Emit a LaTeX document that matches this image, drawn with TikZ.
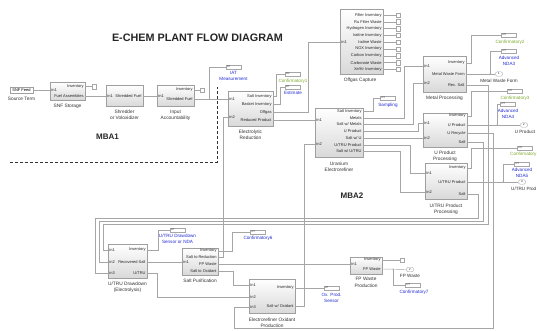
\documentclass[tikz,border=0pt]{standalone}
\usepackage{fontspec}
\setmainfont{Liberation Sans}
\definecolor{rtblue}{RGB}{35,45,210}
\definecolor{rvgreen}{RGB}{125,170,45}
\newcommand{\portfont}{\fontsize{4}{4.5}\selectfont}
\newcommand{\captfont}{\fontsize{4.8}{6.3}\selectfont}
\newcommand{\lblfont}{\fontsize{4.6}{5.8}\selectfont}
\newcommand{\xsfont}{\fontsize{2.8}{3}\selectfont}

\begin{document}
\begin{tikzpicture}[x=1pt, y=-1pt,
  blk/.style={draw=gray!75, top color=white, bottom color=gray!30, inner sep=0pt, anchor=north west},
  inp/.style={anchor=west, font=\portfont, text=black!85, inner xsep=1.2pt, inner ysep=0pt},
  outp/.style={anchor=east, font=\portfont, text=black!85, inner xsep=1.2pt, inner ysep=0pt},
  capt/.style={font=\captfont, text=black!80, align=center, inner sep=0pt},
  olbl/.style={font=\lblfont, text=black!80, align=center, inner sep=0pt},
  wire/.style={draw=gray!70, line width=0.4pt},
  jct/.style={fill=gray!70},
  rtbox/.style={draw=gray!70, fill=white, minimum width=15pt, minimum height=4.5pt, text width=13pt, inner xsep=1pt, inner ysep=0pt, align=left, font=\xsfont, text=black!70},
  rtlbl/.style={font=\lblfont, text=rtblue, align=center, inner sep=0pt},
  rvlbl/.style={font=\lblfont, text=rvgreen, align=center, inner sep=0pt},
  trm/.style={draw=gray!70, fill=white, minimum width=4pt, minimum height=4.5pt, inner sep=0pt},
  oport/.style={draw=gray!70, fill=white, rounded corners=2pt, minimum width=7pt, minimum height=4.5pt, inner sep=0pt, font=\xsfont},
  mba/.style={font=\bfseries\fontsize{8}{8}\selectfont, text=black!85},
  mbaline/.style={draw=black!80, line width=0.8pt, dash pattern=on 3pt off 2pt}
]
\fill[white] (0,0) rectangle (537,331);
\useasboundingbox (0,0) rectangle (537,331);

% title and MBA labels
\node[font=\bfseries\fontsize{10.8}{11}\selectfont, text=black!85] (title) at (197.5,38) {E-CHEM PLANT FLOW DIAGRAM};
\node[mba] (mba1) at (107.5,137) {MBA1};
\node[mba] (mba2) at (352,196) {MBA2};

% MBA1 boundary
\draw[mbaline] (10,162) -- (217,162) -- (217,87);

% source term
\node[draw=gray!75, fill=white, minimum width=23pt, minimum height=6pt, inner sep=0pt, font=\portfont] (feed) at (21.5,90) {SNF Feed};
\node[capt] (feed-c) at (21.5,99) {Source Term};

% SNF storage
\node[blk, minimum width=35pt, minimum height=18pt] (snf) at (50,82) {};
\node[inp] (snf-i1) at (50,90) {in1};
\node[outp] (snf-o1) at (85,86.5) {Inventory};
\node[outp] (snf-o2) at (85,96) {Fuel Assemblies};
\node[capt] (snf-c) at (67.5,106) {SNF Storage};
\node[trm] (snf-t) at (94,86.5) {};

% shredder
\node[blk, minimum width=37pt, minimum height=21pt] (shr) at (106,85) {};
\node[inp] (shr-i1) at (106,96) {in1};
\node[outp] (shr-o1) at (143,96) {Shredded Fuel};
\node[capt] (shr-c) at (124.5,115) {Shredder\\or Voloxidizer};

% input accountability
\node[blk, minimum width=37pt, minimum height=21pt] (ina) at (157,85) {};
\node[inp] (ina-i1) at (157,96) {in1};
\node[outp] (ina-o1) at (194,90) {Inventory};
\node[outp] (ina-o2) at (194,99.5) {Shredded Fuel};
\node[capt] (ina-c) at (175.5,115) {Input\\Accountability};
\node[trm] (ina-t) at (202,90) {};
\node[rtbox] (iat) at (233.5,67) {RT};
\node[rtlbl] (iat-c) at (233.5,76) {IAT\\Measurement};

% electrolytic reduction
\node[blk, minimum width=45pt, minimum height=35pt] (er) at (228,91) {};
\node[inp] (er-i1) at (228,99.5) {in1};
\node[inp] (er-i2) at (228,117) {in2};
\node[outp] (er-o1) at (273,96.5) {Salt Inventory};
\node[outp] (er-o2) at (273,104) {Basket Inventory};
\node[outp] (er-o3) at (273,112) {Offgas};
\node[outp] (er-o4) at (273,120) {Reduced Product};
\node[capt] (er-c) at (250.5,135) {Electrolytic\\Reduction};
\node[rtbox] (cf1) at (292.5,74) {RV};
\node[rvlbl] (cf1-c) at (293,81) {Confirmatory1};
\node[rtbox] (est) at (292.5,87) {RT};
\node[rtlbl] (est-c) at (293,93) {Estimate};

% offgas capture
\node[blk, minimum width=43pt, minimum height=65pt] (oc) at (340,9) {};
\node[inp] (oc-i1) at (340,42) {in1};
\foreach \nm [count=\i] in {Filter Inventory, Ru Filter Waste, Hydrogen Inventory, Iodine Inventory, Iodine Waste, NOX Inventory, Carbon Inventory, Carbonate Waste, Xe/Kr Inventory} {
  \node[outp] (oc-o\i) at (383,8.2+6.8*\i) {\nm};
  \node[trm] (oc-t\i) at (398,8.2+6.8*\i) {};
  \draw[wire] (oc-o\i.east) -- (oc-t\i.west);
}
\node[capt] (oc-c) at (360,80) {Offgas Capture};

% uranium electrorefiner
\node[blk, minimum width=48pt, minimum height=49pt] (ue) at (315,108) {};
\node[inp] (ue-i1) at (315,120) {in1};
\node[inp] (ue-i2) at (315,144) {in2};
\foreach \nm [count=\i] in {Salt Inventory, Metals, Salt w/ Metals, U Product, Salt w/ U, U/TRU Product, Salt w/ U/TRU}
  \node[outp] (ue-o\i) at (363,104.25+6.75*\i) {\nm};
\node[capt] (ue-c) at (339,166.5) {Uranium\\Electrorefiner};
\node[rtbox] (smp) at (388,98) {RT};
\node[rtlbl] (smp-c) at (388,105) {Sampling};

% metal processing
\node[blk, minimum width=43pt, minimum height=36pt] (mp) at (423,56) {};
\node[inp] (mp-i1) at (423,66) {in1};
\node[inp] (mp-i2) at (423,83) {in2};
\node[outp] (mp-o1) at (466,63) {Inventory};
\node[outp] (mp-o2) at (466,74) {Metal Waste Form};
\node[outp] (mp-o3) at (466,85) {Rec. Salt};
\node[capt] (mp-c) at (444.5,98) {Metal Processing};
\node[rtbox] (cf2) at (509,35) {RV};
\node[rvlbl] (cf2-c) at (510,42) {Confirmatory2};
\node[rtbox] (nda3) at (509,51) {RT};
\node[rtlbl] (nda3-c) at (509,60.5) {Advanced\\NDA3};
\node[oport] (mwf) at (499,74) {1};
\node[olbl] (mwf-c) at (499,80.5) {Metal Waste Form};

% U product processing
\node[blk, minimum width=44pt, minimum height=34pt] (up) at (423,113) {};
\node[inp] (up-i1) at (423,123) {in1};
\node[inp] (up-i2) at (423,138) {in2};
\node[outp] (up-o1) at (467,116) {Inventory};
\node[outp] (up-o2) at (467,125) {U Product};
\node[outp] (up-o3) at (467,133) {U Recycle};
\node[outp] (up-o4) at (467,142) {Salt};
\node[capt] (up-c) at (445,156.5) {U Product\\Processing};
\node[rtbox] (cf3) at (515,91) {RV};
\node[rvlbl] (cf3-c) at (515,98) {Confirmatory3};
\node[rtbox] (nda4) at (508,104) {RT};
\node[rtlbl] (nda4-c) at (508,113.5) {Advanced\\NDA4};
\node[oport] (upo) at (524,125) {2};
\node[olbl] (upo-c) at (525,132) {U Product};

% U/TRU product processing
\node[blk, minimum width=42pt, minimum height=36pt] (ut) at (425,163) {};
\node[inp] (ut-i1) at (425,173) {in1};
\node[inp] (ut-i2) at (425,192) {in2};
\node[outp] (ut-o1) at (467,168) {Inventory};
\node[outp] (ut-o2) at (467,182) {U/TRU Product};
\node[outp] (ut-o3) at (467,194) {Salt};
\node[capt] (ut-c) at (446,209.5) {U/TRU Product\\Processing};
\node[rtbox] (cf4) at (525,148) {RV};
\node[rvlbl, anchor=west] (cf4-c) at (510,154.5) {Confirmatory};
\node[rtbox] (nda5) at (522,164) {RT};
\node[rtlbl] (nda5-c) at (522,173) {Advanced\\NDA5};
\node[oport] (uto) at (522,182) {3};
\node[olbl, anchor=west] (uto-c) at (511,188.5) {U/TRU Prod};

% U/TRU drawdown
\node[blk, minimum width=39pt, minimum height=34pt] (ud) at (108,244) {};
\node[inp] (ud-i1) at (108,250) {in1};
\node[inp] (ud-i2) at (108,262) {in2};
\node[inp] (ud-i3) at (108,273) {in3};
\node[outp] (ud-o1) at (147,250) {Inventory};
\node[outp] (ud-o2) at (147,262) {Recovered Salt};
\node[outp] (ud-o3) at (147,273) {U/TRU};
\node[capt] (ud-c) at (127.5,287.5) {U/TRU Drawdown\\(Electrolysis)};
\node[rtbox] (udn) at (177.5,230) {RT};
\node[rtlbl] (udn-c) at (177.5,238.5) {U/TRU Drawdown\\Sensor or NDA};

% salt purification
\node[blk, minimum width=36pt, minimum height=27pt] (sp) at (182,248) {};
\node[inp] (sp-i1) at (182,262) {in1};
\node[outp] (sp-o1) at (218,251) {Inventory};
\node[outp] (sp-o2) at (218,257.5) {Salt to Reduction};
\node[outp] (sp-o3) at (218,264) {FP Waste};
\node[outp] (sp-o4) at (218,271) {Salt to Oxidant};
\node[capt] (sp-c) at (200,281) {Salt Purification};
\node[rtbox] (cf6) at (258,232) {RT};
\node[rtlbl] (cf6-c) at (258,238.5) {Confirmatory6};

% electrorefiner oxidant production
\node[blk, minimum width=46pt, minimum height=34pt] (op) at (249,279) {};
\node[inp] (op-i1) at (249,285) {in1};
\node[inp] (op-i2) at (249,297) {in2};
\node[inp] (op-i3) at (249,307) {in3};
\node[outp] (op-o1) at (295,288) {Inventory};
\node[outp] (op-o2) at (295,306) {Salt w/ Oxidant};
\node[capt] (op-c) at (272,322.5) {Electrorefiner Oxidant\\Production};
\node[rtbox] (oxs) at (331.5,288) {RT};
\node[rtlbl] (oxs-c) at (331.5,297.5) {Ox. Prod.\\Sensor};

% FP waste production
\node[blk, minimum width=32pt, minimum height=17pt] (fp) at (350,257) {};
\node[inp] (fp-i1) at (350,264) {in1};
\node[outp] (fp-o1) at (382,260) {Inventory};
\node[outp] (fp-o2) at (382,269) {FP Waste};
\node[capt] (fp-c) at (366,282.5) {FP Waste\\Production};
\node[trm] (fp-t) at (402,260) {};
\node[oport] (fpo) at (410,269.5) {2};
\node[olbl] (fpo-c) at (410,276) {FP Waste};
\node[rtbox] (cf7) at (413,285) {RT};
\node[rtlbl] (cf7-c) at (414,292) {Confirmatory7};

% connections, MBA1
\draw[wire] (feed.east) -- (snf-i1.west);
\draw[wire] (snf-o1.east) -- (snf-t.west);
\draw[wire] (snf-o2.east) -- (shr-i1.west);
\draw[wire] (shr-o1.east) -- (ina-i1.west);
\draw[wire] (ina-o1.east) -- (ina-t.west);
\draw[wire] (ina-o2.east) -- (er-i1.west);
\path (ina-o2.east) ++(15,0) coordinate (iatj);
\draw[wire] (iatj) |- (iat.west);
\fill[jct] (iatj) circle[radius=0.7pt];

% connections, reduction and refining
\draw[wire] (er-o1.east) -| ([xshift=-9pt]cf1.west) -- (cf1.west);
\draw[wire] (er-o2.east) -| ([xshift=-4.5pt]est.west) -- (est.west);
\draw[wire] (er-o3.east) -- ++(35,0) |- (oc-i1.west);
\draw[wire] (er-o4.east) -- (ue-i1.west);
\draw[wire] (ue-o1.east) -| ([xshift=-7.5pt]smp.west) -- (smp.west);
\draw[wire] (ue-o2.east) -- ++(41,0) |- (mp-i1.west);
\draw[wire] (ue-o3.east) -- ++(50,0) |- (mp-i2.west);
\draw[wire] (ue-o4.east) -- ++(55,0) |- (up-i1.west);
\draw[wire] (ue-o5.east) -- (up-i2.west);
\draw[wire] (ue-o6.east) -- ++(47,0) |- (ut-i1.west);
\draw[wire] (ue-o7.east) -- ++(37,0) |- (ut-i2.west);

% connections, product processing
\draw[wire] (mp-o1.east) -- ++(5,0) |- (cf2.west);
\draw[wire] (mp-o2.east) -- (mwf.west);
\path (mp-o2.east) ++(24,0) coordinate (mwfj);
\draw[wire] (mwfj) |- (nda3.west);
\fill[jct] (mwfj) circle[radius=0.7pt];
\draw[wire] (up-o1.east) -- ++(4,0) |- (cf3.west);
\draw[wire] (up-o2.east) -- (upo.west);
\path (up-o2.east) ++(30,0) coordinate (upj);
\draw[wire] (upj) |- (nda4.west);
\fill[jct] (upj) circle[radius=0.7pt];
\draw[wire] (ut-o1.east) -- ++(4,0) |- (cf4.west);
\draw[wire] (ut-o2.east) -- (uto.west);
\path (ut-o2.east) ++(36,0) coordinate (utj);
\draw[wire] (utj) |- (nda5.west);
\fill[jct] (utj) circle[radius=0.7pt];

% salt return loops
\draw[wire] (mp-o3.east) -| (488,224) -| ([xshift=-5pt]ud-i1.west) -- (ud-i1.west);
\draw[wire] (up-o4.east) -| (483,221) -| ([xshift=-9pt]ud-i2.west) -- (ud-i2.west);
\draw[wire] (ut-o3.east) -| (478,218) -| ([xshift=-13pt]ud-i3.west) -- (ud-i3.west);
\draw[wire] (up-o3.east) -| (493,328) -| ([xshift=-15pt]op-i3.west) -- (op-i3.west);

% connections, drawdown and salt purification
\draw[wire] (ud-o1.east) -- ++(11,0) |- (udn.west);
\draw[wire] (ud-o2.east) -- (sp-i1.west);
\draw[wire] (ud-o3.east) -- ++(10,0) |- (op-i2.west);
\draw[wire] (sp-o1.east) -- ++(14,0) |- (cf6.west);
\draw[wire] (sp-o2.east) -- ++(5,0) |- (er-i2.west);
\draw[wire] (sp-o3.east) -- (fp-i1.west);
\draw[wire] (sp-o4.east) -- ++(15,0) |- (op-i1.west);
\draw[wire] (op-o1.east) -- (oxs.west);
\draw[wire] (op-o2.east) -- ++(9,0) |- (ue-i2.west);
\draw[wire] (fp-o1.east) -- (fp-t.west);
\draw[wire] (fp-o2.east) -- (fpo.west);
\path (fp-o2.east) ++(11,0) coordinate (fpj);
\draw[wire] (fpj) |- (cf7.west);
\fill[jct] (fpj) circle[radius=0.7pt];

\end{tikzpicture}
\end{document}
